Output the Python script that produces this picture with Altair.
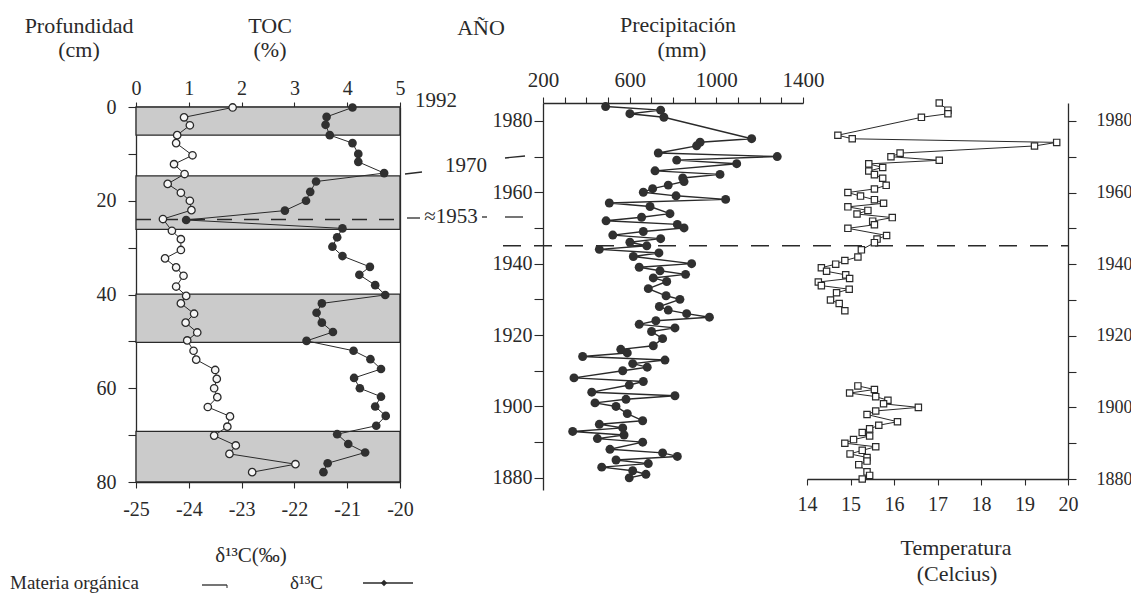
import altair as alt
import pandas as pd

# ---------------- left panel: sediment core (depth in cm) ----------------
toc_depth = [0.1, 2.2, 3.9, 6.0, 7.7, 10.3, 12.2, 14.3, 16.4, 18.3,
             20.0, 22.0, 23.9, 26.4, 28.2, 30.5, 32.3, 34.2, 36.0, 38.3,
             40.3, 41.9, 44.1, 46.0, 48.1, 49.8, 52.0, 53.9, 56.1, 58.0,
             60.0, 61.9, 64.0, 66.0, 68.2, 70.1, 72.2, 74.0, 76.2, 77.9]
toc_pct = [1.83, 0.91, 1.02, 0.78, 0.76, 1.07, 0.72, 0.92, 0.60, 0.85,
           1.02, 1.05, 0.51, 0.68, 0.85, 0.85, 0.55, 0.76, 0.90, 0.76,
           0.95, 0.85, 1.10, 0.94, 1.16, 0.97, 1.09, 1.14, 1.50, 1.53,
           1.48, 1.54, 1.36, 1.78, 1.73, 1.48, 1.89, 1.77, 3.02, 2.20]
d13c_depth = [0.1, 2.1, 3.8, 6.0, 7.7, 10.0, 11.7, 14.1, 15.9, 18.1,
              20.0, 22.1, 24.1, 25.9, 27.8, 29.8, 31.8, 34.1, 35.8, 38.0,
              40.1, 41.9, 43.9, 46.0, 48.0, 49.9, 52.0, 53.8, 55.9, 57.8,
              60.0, 61.8, 63.9, 65.9, 68.0, 69.8, 71.9, 73.7, 76.0, 77.9]
d13c_val = [-20.90, -21.39, -21.41, -21.33, -20.90, -20.79, -20.79, -20.30, -21.59, -21.70,
            -21.78, -22.18, -24.05, -21.09, -21.19, -21.28, -21.09, -20.57, -20.77, -20.47,
            -20.28, -21.48, -21.58, -21.48, -21.27, -21.77, -20.88, -20.56, -20.36, -20.87,
            -20.76, -20.36, -20.47, -20.27, -20.45, -21.19, -20.98, -20.66, -21.37, -21.45]
band_top = [0, 14.7, 39.9, 69.2]
band_bottom = [6.0, 26.1, 50.2, 80]
marker_depth = [24.0]

# ---------------- right panel: climate record (year) ----------------
precip_year = [1984, 1983, 1982, 1981, 1975, 1974, 1973, 1971, 1970, 1969,
               1968, 1966, 1965, 1964, 1963, 1962, 1961, 1960, 1959, 1958,
               1957, 1956, 1954, 1953, 1952, 1951, 1950, 1949, 1948, 1947,
               1946, 1945, 1944, 1943, 1942, 1940, 1939, 1938, 1937, 1936,
               1935, 1933, 1931, 1930, 1928, 1927, 1926, 1925, 1924, 1923,
               1922, 1921, 1919, 1917, 1916, 1915, 1914, 1913, 1912, 1911,
               1910, 1908, 1907, 1906, 1904, 1903, 1902, 1901, 1900, 1898,
               1896, 1895, 1894, 1893, 1892, 1891, 1890, 1888, 1887, 1886,
               1885, 1884, 1883, 1882, 1881, 1880]
precip_mm = [489, 743, 601, 758, 1163, 925, 909, 732, 1281, 817,
             1094, 717, 1017, 845, 851, 778, 706, 663, 814, 1043,
             506, 694, 786, 655, 491, 820, 851, 663, 522, 743,
             601, 679, 460, 735, 617, 886, 644, 740, 858, 709,
             771, 686, 768, 832, 737, 778, 863, 968, 721, 644,
             809, 701, 752, 709, 559, 589, 383, 763, 614, 681,
             568, 343, 663, 598, 425, 809, 583, 440, 537, 589,
             660, 460, 568, 337, 574, 451, 660, 509, 752, 820,
             537, 686, 471, 614, 675, 598]
temp_year = [1985, 1983, 1982, 1981, 1976, 1975, 1974, 1973, 1971, 1970,
             1969, 1968, 1967, 1966, 1965, 1964, 1962, 1961, 1960, 1959,
             1958, 1957, 1956, 1955, 1954, 1953, 1952, 1951, 1950, 1948,
             1947, 1946, 1944, 1942, 1941, 1940, 1939, 1938, 1937, 1936,
             1935, 1934, 1933, 1932, 1930, 1929, 1927,
             1906, 1905, 1904, 1903, 1902, 1901, 1900, 1899, 1898,
             1896, 1895, 1894, 1893, 1892, 1891, 1890, 1889, 1888, 1887,
             1886, 1885, 1884, 1882, 1881, 1880]
temp_c = [17.04, 17.24, 17.24, 16.63, 14.71, 15.04, 19.74, 19.23, 16.14, 15.93,
          17.04, 15.42, 15.74, 15.42, 15.55, 15.74, 15.82, 15.55, 14.94, 15.23,
          15.55, 15.76, 14.94, 15.40, 15.15, 15.96, 15.51, 15.55, 14.94, 15.83,
          15.61, 15.55, 15.25, 15.17, 14.87, 14.66, 14.33, 14.45, 14.89, 14.98,
          14.26, 14.33, 14.97, 14.68, 14.54, 14.74, 14.87,
          15.17, 15.55, 14.98, 15.58, 15.86, 15.76, 16.56, 15.58, 15.38,
          16.08, 15.65, 15.44, 15.27, 15.44, 15.07, 14.87, 15.58, 15.27, 14.99,
          15.38, 15.38, 15.19, 15.38, 15.44, 15.27]
marker_year = [1945]

toc_ticks = [i * 0.5 for i in range(11)]
d13c_ticks = [-25 + i * 0.5 for i in range(11)]
depth_ticks = list(range(0, 81, 10))
precip_ticks = list(range(200, 1401, 100))
temp_ticks = [14 + i * 0.5 for i in range(13)]
year_ticks = list(range(1880, 1981, 10))

# ---------------- tables ----------------
toc_df = pd.DataFrame({"depth": toc_depth, "toc": toc_pct})
d13_df = pd.DataFrame({"depth": d13c_depth, "d13c": d13c_val})
band_df = pd.DataFrame({"top": band_top, "bottom": band_bottom})
band_df["lo"] = 0
band_df["hi"] = 5
mark_df = pd.DataFrame({"depth": marker_depth, "lo": [0], "hi": [5]})
pp_df = pd.DataFrame({"year": precip_year, "mm": precip_mm})
tt_df = pd.DataFrame({"year": temp_year, "temp": temp_c})
tt_df["seg"] = ["upper" if y > 1915 else "lower" for y in temp_year]
my_df = pd.DataFrame({"year": marker_year})

FONT = "Liberation Serif"
INK = "#2a2a2a"
W, H = 1123, 587

sc_toc = alt.Scale(domain=[0, 5], range=[128, 392], nice=False, zero=False)
sc_d13 = alt.Scale(domain=[-25, -20], range=[128, 392], nice=False, zero=False)
sc_depth = alt.Scale(domain=[0, 80], range=[99, 474], nice=False, zero=False)
sc_pp = alt.Scale(domain=[200, 1400], range=[535, 795], nice=False, zero=False)
sc_yp = alt.Scale(domain=[1876.6, 1985], range=[482, 95], nice=False, zero=False)
sc_tt = alt.Scale(domain=[14, 20], range=[799, 1060], nice=False, zero=False)
sc_yt = alt.Scale(domain=[1880, 1985], range=[471, 95], nice=False, zero=False)


def axis(**kw):
    base = dict(grid=False, domainColor=INK, tickColor=INK, labelColor=INK,
                labelFont=FONT, labelFontSize=20, domainWidth=1.3, tickWidth=1.1,
                labelFlush=False, labelOverlap=False, title=None, format="d")
    base.update(kw)
    return alt.Axis(**base)


ax_toc = axis(orient="top", offset=-99, values=toc_ticks, tickSize=5, labelPadding=4,
              labelExpr="datum.value % 1 == 0 ? datum.label : ''")
ax_d13 = axis(orient="bottom", offset=-113, values=d13c_ticks, tickSize=6, labelPadding=11,
              labelExpr="datum.value % 1 == 0 ? '-' + abs(datum.value) : ''")
ax_depth = axis(orient="left", offset=-128, values=depth_ticks, tickSize=8, labelPadding=12,
                labelExpr="datum.value % 20 == 0 ? datum.label : ''")
ax_frame = axis(orient="right", offset=-731, ticks=False, labels=False)
ax_pp = axis(orient="top", offset=-95, values=precip_ticks, tickSize=6, labelPadding=7,
             labelFontSize=21, labelExpr="(datum.value - 200) % 400 == 0 ? datum.label : ''")
ax_yp = axis(orient="left", offset=-535, values=year_ticks, tickSize=9, labelPadding=2,
             labelExpr="datum.value % 20 == 0 ? datum.label : ''")
ax_tt = axis(orient="bottom", offset=-116, values=temp_ticks, tickSize=6, labelPadding=9,
             labelExpr="datum.value % 1 == 0 ? datum.label : ''")
ax_yt = axis(orient="right", offset=-63, values=year_ticks, tickSize=8, labelPadding=20,
             labelFontSize=18, labelExpr="datum.value % 20 == 0 ? datum.label : ''")

layers = []

# shaded bands (Materia orgánica horizons)
layers.append(alt.Chart(band_df).mark_rect(fill="#cbcbcb", stroke=INK, strokeWidth=1.3).encode(
    x=alt.X("lo:Q", scale=sc_toc, axis=None), x2="hi:Q",
    y=alt.Y("top:Q", scale=sc_depth, axis=None), y2="bottom:Q"))

# ≈1953 dashed horizon
layers.append(alt.Chart(mark_df).mark_rule(color=INK, strokeWidth=1.3, strokeDash=[15, 12]).encode(
    x=alt.X("lo:Q", scale=sc_toc, axis=None), x2="hi:Q",
    y=alt.Y("depth:Q", scale=sc_depth, axis=None)))

# TOC
layers.append(alt.Chart(toc_df).mark_line(color=INK, strokeWidth=1).encode(
    x=alt.X("toc:Q", scale=sc_toc, axis=ax_toc),
    y=alt.Y("depth:Q", scale=sc_depth, axis=ax_depth),
    order="depth:Q"))
layers.append(alt.Chart(toc_df).mark_point(shape="circle", filled=True, fill="#f6f6f6", stroke=INK,
                                           strokeWidth=1.3, size=55, opacity=1).encode(
    x=alt.X("toc:Q", scale=sc_toc, axis=None),
    y=alt.Y("depth:Q", scale=sc_depth, axis=None)))

# δ13C
layers.append(alt.Chart(d13_df).mark_line(color=INK, strokeWidth=1).encode(
    x=alt.X("d13c:Q", scale=sc_d13, axis=ax_d13),
    y=alt.Y("depth:Q", scale=sc_depth, axis=ax_frame),
    order="depth:Q"))
layers.append(alt.Chart(d13_df).mark_point(shape="circle", filled=True, color="#303030",
                                           size=75, opacity=1).encode(
    x=alt.X("d13c:Q", scale=sc_d13, axis=None),
    y=alt.Y("depth:Q", scale=sc_depth, axis=None)))

# 1945 dashed line across the climate panel
layers.append(alt.Chart(my_df).mark_rule(color=INK, strokeWidth=1.4, strokeDash=[18, 13]).encode(
    y=alt.Y("year:Q", scale=sc_yp, axis=None),
    x=alt.value(495), x2=alt.value(1060)))

# Precipitación
layers.append(alt.Chart(pp_df).mark_line(color=INK, strokeWidth=1.4).encode(
    x=alt.X("mm:Q", scale=sc_pp, axis=ax_pp),
    y=alt.Y("year:Q", scale=sc_yp, axis=ax_yp),
    order="year:Q"))
layers.append(alt.Chart(pp_df).mark_point(shape="circle", filled=True, color="#303030",
                                          size=80, opacity=1).encode(
    x=alt.X("mm:Q", scale=sc_pp, axis=None),
    y=alt.Y("year:Q", scale=sc_yp, axis=None)))

# Temperatura
layers.append(alt.Chart(tt_df).mark_line(color=INK, strokeWidth=1).encode(
    x=alt.X("temp:Q", scale=sc_tt, axis=ax_tt),
    y=alt.Y("year:Q", scale=sc_yt, axis=ax_yt),
    detail="seg:N", order="year:Q"))
layers.append(alt.Chart(tt_df).mark_point(shape="square", filled=True, fill="white", stroke=INK,
                                          strokeWidth=1.2, size=40, opacity=1).encode(
    x=alt.X("temp:Q", scale=sc_tt, axis=None),
    y=alt.Y("year:Q", scale=sc_yt, axis=None)))


def note(text, x, y, size=22, align="center", angle=0):
    kw = dict(text=text, font=FONT, fontSize=size, color=INK, align=align, baseline="alphabetic")
    if angle:
        kw["angle"] = angle
    return alt.Chart(alt.Data(values=[{}])).mark_text(**kw).encode(x=alt.value(x), y=alt.value(y))


def stroke(x1, y1, x2, y2, width=1.3):
    return alt.Chart(alt.Data(values=[{}])).mark_rule(color=INK, strokeWidth=width).encode(
        x=alt.value(x1), y=alt.value(y1), x2=alt.value(x2), y2=alt.value(y2))


layers += [
    note("Profundidad", 71, 25), note("(cm)", 71, 49),
    note("TOC", 262, 25), note("(%)", 262, 49),
    note("AÑO", 473, 27),
    note("Precipitación", 670, 24), note("(mm)", 674, 49),
    note("1992", 428, 99, size=21),
    note("1970", 458, 164, size=21),
    note("≈1953", 443, 215, size=21),
    stroke(397, 166, 414, 164), stroke(497, 150, 517, 148),
    stroke(399, 210, 412, 210), stroke(474, 209, 479, 209), stroke(497, 209, 515, 209),
    note("δ¹³C(‰)", 243, 554, size=21),
    note("Materia orgánica", 2, 581, size=19, align="left"),
    stroke(194, 577, 219, 577), stroke(219, 577, 219, 580, width=1),
    note("δ¹³C", 282, 581, size=19, align="left"),
    stroke(355, 575, 405, 575),
    note("Temperatura", 948, 547), note("(Celcius)", 949, 573),
]

dot = alt.Chart(alt.Data(values=[{}])).mark_point(shape="diamond", filled=True, color=INK,
                                                  size=40, opacity=1).encode(
    x=alt.value(376), y=alt.value(575))
layers.append(dot)

chart = alt.layer(*layers).resolve_scale(x="independent", y="independent").properties(
    width=W, height=H, autosize=alt.AutoSizeParams(type="none"), padding=0, background="white"
).configure_view(stroke=None)

chart.save("out.html", embed_options={"renderer": "svg", "actions": False})
